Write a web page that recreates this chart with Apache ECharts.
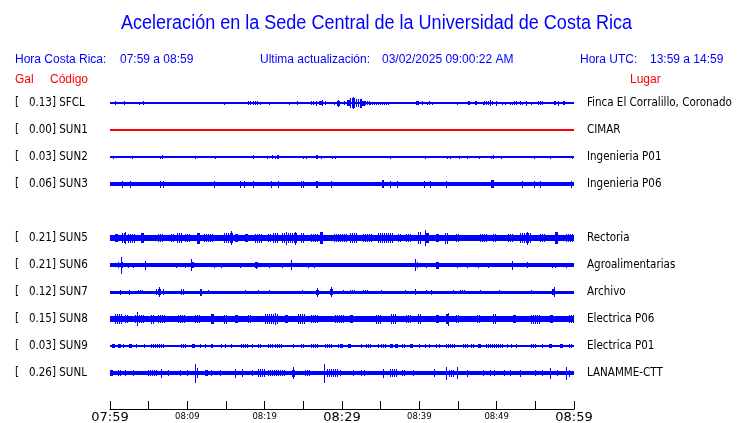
<!DOCTYPE html>
<html>
<head>
<meta charset="utf-8">
<script src="https://cdn.jsdelivr.net/npm/echarts@6/dist/echarts.min.js"></script>
<style>
  html, body { margin: 0; padding: 0; background: #ffffff; }
  #chart { width: 740px; height: 423px; }
</style>
</head>
<body>
<div id="chart"></div>
<script>
// ---------- data ----------
const codes  = ['SFCL', 'SUN1', 'SUN2', 'SUN3', 'SUN5', 'SUN6', 'SUN7', 'SUN8', 'SUN9', 'SUNL'];
const gal    = ['0.13', '0.00', '0.03', '0.06', '0.21', '0.21', '0.12', '0.15', '0.03', '0.26'];
const places = ['Finca El Corralillo, Coronado', 'CIMAR', 'Ingenieria P01', 'Ingenieria P06',
                'Rectoria', 'Agroalimentarias', 'Archivo', 'Electrica P06', 'Electrica P01', 'LANAMME-CTT'];
const rowIndex = [0, 1, 2, 3, 5, 6, 7, 8, 9, 10];
const traceColor = ['#0000ff', '#ff0000', '#0000ff', '#0000ff', '#0000ff', '#0000ff', '#0000ff', '#0000ff', '#0000ff', '#0000ff'];
// background (quiet) half-amplitude of each trace, relative units
const baseAmp = [0.6, 0.8, 0.6, 2, 3.2, 1.8, 1.5, 3, 0.8, 2];

// minutes after 07:59 ; x tick labels
const tickMinutes = [0, 10, 20, 30, 40, 50, 60];
const tickLabels  = ['07:59', '08:09', '08:19', '08:29', '08:39', '08:49', '08:59'];

// events: [startMinute, endMinute, halfAmplitude]
const evSFCL = [[0.7,0.7,2],[1.8,1.8,2],[3.8,3.8,1.5],[4.3,4.3,2],[14.7,14.7,1.5],[17.85,18.3,1.8],[18.5,19.2,1.8],
  [19.4,19.4,1.5],[20.6,20.6,1.5],[23.1,23.1,1.5],[24.2,24.2,2],[25.95,26.5,1.8],[26.7,26.7,2.5],[27.0,27.0,2],
  [27.2,27.6,2],[27.4,27.4,3],[27.75,27.75,2],[29.0,29.0,1.5],[29.35,29.75,2.5],[29.5,29.5,3.5],[30.3,30.3,2],
  [30.6,31.0,3],[31.0,31.8,5],[31.4,31.4,6],[31.8,32.3,4],[32.3,32.6,4.5],[32.6,33.0,2.5],[33.0,33.6,2],[33.6,36.2,1.5],
  [39.6,39.9,2],[40.4,40.4,2],[41.0,41.0,1.5],[41.25,41.4,2],[41.7,41.7,1.5],[42.0,42.0,1.2],[44.9,44.9,1.5],
  [46.35,46.6,2],[47.2,47.4,2],[48.2,48.2,1.5],[48.3,49.5,2],[49.1,49.1,3],[49.9,50.1,2.5],[50.7,50.7,1.5],
  [51.1,51.1,1.5],[51.7,51.7,1.5],[52.0,52.0,1.5],[52.3,52.7,2],[53.0,53.0,2],[53.3,53.3,1.5],[53.8,53.8,2.5],
  [54.4,54.4,1.5],[55.3,56.1,2],[56.6,56.6,1.2],[57.4,57.7,2],[57.9,57.9,2.5],[58.6,58.8,2]];
const evSUN1 = [];
const evSUN2 = [[0.35,0.35,1.5],[2.85,2.85,1.5],[6.5,6.5,1.5],[6.7,6.9,1.8],[11.0,11.0,1.5],[13.6,13.6,1.5],
  [18.5,18.5,2],[20.3,20.3,1.5],[20.9,20.9,2],[21.3,21.3,1.5],[21.6,21.8,2],[25.0,25.0,1.5],[25.3,25.3,1.5],
  [26.7,26.95,2],[27.3,27.3,1.5],[28.7,28.7,1.5],[29.1,29.1,1.5],[36.25,36.4,1.5],[40.7,40.9,1.5],[43.6,43.6,1.5],
  [44.0,44.0,1.5],[45.1,45.1,1.5],[46.1,46.1,1.5],[47.7,47.7,1.5],[49.3,49.3,1.5],[49.5,49.5,2],[50.5,50.5,1.5],
  [54.8,54.8,1.5],[56.9,56.9,1.5],[59.7,59.7,1.5]];
const evSUN3 = [[1.55,1.55,3.5],[2.6,2.6,3.5],[6.5,6.5,3.5],[6.9,6.9,3.5],[13.45,13.45,3.5],[16.8,16.8,3.5],
  [17.3,17.3,3.5],[18.5,18.5,3.5],[20.8,21.0,3.5],[21.7,21.7,3.5],[24.75,24.75,3.5],[25.0,25.0,3.5],[26.7,26.9,3.5],
  [28.6,28.6,3.5],[35.2,35.4,4],[36.2,36.2,3.5],[37.1,37.1,3.5],[40.6,40.6,3.5],[41.4,41.4,3.5],[43.5,43.5,3.5],
  [49.3,49.6,4],[53.3,53.3,3.5],[54.8,54.8,3.5],[55.6,55.6,3.5],[59.6,59.6,3.5]];
const evSUN5 = [[0.6,1.0,4],[1.5,2.1,5],[1.9,1.9,6],[2.3,3.2,4.5],[4.05,4.4,5],[6.2,6.9,4],[7.9,8.4,4],[8.6,9.4,5],
  [9.7,10.5,4],[11.2,11.6,5.5],[12.2,13.5,4],[14.8,15.9,5],[15.6,15.6,7],[16.1,16.6,4],[17.4,17.8,4],[18.7,19.6,4.5],
  [20.4,20.9,4],[21.1,21.7,5],[22.2,24.3,5],[22.8,22.8,6.5],[23.9,23.9,6.5],[24.7,25.2,5],[26.0,26.9,4],[27.1,27.5,6],
  [29.0,30.6,4],[31.0,31.9,5],[32.7,34.0,4],[34.7,35.5,5],[35.7,36.6,5],[37.2,37.7,4],[38.3,39.0,4],[39.8,40.3,6],
  [40.7,40.7,8],[40.9,41.3,5],[42.2,42.6,4],[43.3,43.9,5.5],[44.8,45.2,4],[47.8,48.7,4],[49.5,50.0,4],[51.5,52.1,4],
  [53.0,54.5,5],[53.9,53.9,6.5],[55.6,56.2,4],[57.5,57.9,6],[59.0,60.0,4]];
const evSUN6 = [[1.04,1.04,3],[1.38,1.38,8.5],[1.5,1.6,3],[2.33,2.33,2.5],[2.98,2.98,2.5],[4.57,4.57,4.5],
  [8.58,8.58,2.5],[9.66,9.66,2.5],[10.52,10.52,6],[10.6,10.8,3],[13.5,13.5,2.5],[14.3,14.3,2.5],[16.8,16.8,2.5],
  [18.7,19.1,3],[18.9,18.9,3.5],[20.5,20.5,2.5],[22.25,22.25,2.5],[23.4,23.4,5],[25.6,25.6,2.5],[26.4,26.4,2.5],
  [39.5,39.5,6],[39.7,39.7,3],[40.9,40.9,2.5],[42.2,42.5,3.5],[44.9,44.9,2.5],[46.1,46.1,2.5],[47.6,47.6,2.5],
  [48.9,48.9,2.5],[52.0,52.0,4.5],[53.9,54.1,3],[57.1,57.1,2.5],[57.6,57.6,2.5],[59.0,59.0,2.5]];
const evSUN7 = [[1.25,1.25,2.5],[2.4,2.4,2.5],[3.6,4.4,2.2],[6.0,6.6,3],[6.3,6.3,5],[6.86,6.86,3],[9.2,9.66,3],
  [11.6,11.9,3.5],[12.7,12.7,2],[17.4,17.4,2],[19.2,19.2,2],[20.6,20.6,2],[24.8,24.8,2],[26.6,27.0,2.5],[26.8,26.8,4.5],
  [28.4,28.8,3],[28.6,28.6,5],[30.1,30.1,2],[31.0,31.8,2.2],[32.7,33.5,2.2],[35.1,35.1,2],[38.1,38.1,2],[39.5,39.5,3],
  [40.9,40.9,2],[41.55,41.55,2.5],[44.4,44.4,2],[45.3,46.0,2],[47.8,47.8,2],[50.3,50.3,2],[54.5,54.5,2],
  [57.2,57.6,3],[57.4,57.4,5]];
const evSUN8 = [[0.6,1.7,5],[1.9,2.5,4],[3.2,4.5,4],[3.5,3.5,7],[5.35,5.8,4.5],[6.2,7.1,4],[8.8,9.7,4],[11.0,11.6,4],
  [13.1,13.5,5],[14.8,15.3,4.5],[16.1,16.6,4],[17.8,18.3,4],[20.0,21.7,5],[21.3,21.3,6],[22.6,23.0,4],[24.3,25.2,5],
  [26.0,26.9,4],[29.1,30.35,4],[31.0,31.4,4],[34.4,35.1,4.5],[36.4,37.0,5],[38.3,39.0,4],[39.8,40.3,5],[42.2,42.6,4],
  [43.5,43.9,5],[43.7,43.7,6.5],[44.8,45.2,4],[47.4,48.0,4],[49.5,50.0,5],[52.1,52.5,4],[54.5,55.6,4.5],
  [56.9,57.3,4],[59.4,60.0,4]];
const evSUN9 = [[0.2,0.6,1.8],[1.0,1.4,1.8],[1.7,1.7,1.8],[2.4,2.8,1.8],[3.4,3.4,1.8],[4.4,4.4,1.8],[5.3,7.0,1.8],
  [9.2,9.9,1.8],[10.6,11.0,1.8],[11.6,11.6,1.8],[12.25,12.25,1.8],[13.0,13.3,1.8],[14.4,14.4,1.8],[14.9,14.9,1.8],
  [15.7,15.7,1.8],[17.0,17.9,1.8],[18.3,18.3,1.8],[19.2,19.6,1.8],[20.4,21.1,1.8],[21.3,22.4,1.8],[23.7,23.7,1.8],
  [24.7,25.2,1.8],[26.0,26.9,1.8],[27.8,28.8,1.8],[29.5,29.5,1.8],[29.7,30.1,1.8],[30.8,31.2,1.8],[32.5,32.5,1.8],
  [33.1,33.7,1.8],[34.7,34.7,1.8],[35.1,35.7,1.8],[36.2,36.6,1.8],[36.8,37.2,1.8],[37.7,38.3,1.8],[38.75,39.2,1.8],
  [40.0,40.0,1.8],[40.7,40.7,1.8],[41.3,41.3,1.8],[42.2,42.2,1.8],[42.6,42.6,1.8],[43.4,44.8,1.8],[45.6,46.3,1.8],
  [46.7,47.2,1.8],[47.6,48.0,1.8],[48.6,50.8,1.8],[51.3,51.3,1.8],[51.9,51.9,1.8],[52.5,52.5,1.8],[54.4,55.1,1.8],
  [55.8,56.0,1.8],[56.8,57.2,1.8],[58.2,58.6,1.8],[59.4,59.9,1.8]];
const evSUNL = [[0,0.4,3],[1.0,1.5,3],[1.9,1.9,3],[3.0,3.0,3],[4.9,6.2,3],[6.6,6.6,4.5],[7.5,7.5,3],[9.0,9.0,3],
  [9.9,9.9,3],[10.95,10.95,9.5],[11.2,11.2,5],[12.25,12.7,3],[13.1,13.1,3],[14.2,14.2,3],[16.1,16.1,4.5],
  [17.1,17.1,4],[18.3,18.3,3],[19.1,20.0,4],[20.4,22.6,3],[23.5,23.9,3.5],[23.7,23.7,6],[25.2,26.0,3],[27.7,27.7,9.5],
  [28.0,29.5,4],[29.7,29.9,3],[31.4,31.4,3],[32.5,32.5,3],[32.9,32.9,3],[35.3,35.3,4.5],[36.2,37.2,4],[37.7,38.3,3],
  [39.2,39.2,3],[41.9,41.9,4],[43.4,43.4,6.5],[43.9,44.6,3.5],[44.9,44.9,6],[46.2,46.2,3.5],[48.2,48.2,3],
  [49.1,49.1,3],[49.7,49.7,3],[51.0,51.0,3],[51.7,51.7,3],[53.0,53.0,3.5],[54.9,54.9,3],[55.8,55.8,3],
  [56.9,56.9,5.5],[57.8,57.8,3],[59.0,59.0,6.5],[59.4,59.4,3.5]];
const events = [evSFCL, evSUN1, evSUN2, evSUN3, evSUN5, evSUN6, evSUN7, evSUN8, evSUN9, evSUNL];

// ---------- build ----------
const AMP_UNIT = 1 / 27;   // rows per relative amplitude unit
const seriesData = [];
codes.forEach((c, i) => {
  const r = rowIndex[i];
  seriesData.push({ value: [r, 0, 60, baseAmp[i], 0], itemStyle: { color: traceColor[i] } });
  events[i].forEach(ev => seriesData.push({ value: [r, ev[0], ev[1], ev[2], 1], itemStyle: { color: traceColor[i] } }));
});
const leftLabel = {}, rightLabel = {};
codes.forEach((c, i) => {
  leftLabel[rowIndex[i]] = '[   ' + gal[i] + '] ' + c;
  rightLabel[rowIndex[i]] = places[i];
});
const tickMap = {};
tickMinutes.forEach((m, i) => tickMap[m] = tickLabels[i]);

const BLUE = '#0000ff', RED = '#ff0000';
const headFont = 'Liberation Sans';
const rowFont = 'DejaVu Sans Condensed';
const TITLE = 'Aceleración en la Sede Central de la Universidad de Costa Rica';
const mctx = document.createElement('canvas').getContext('2d');
mctx.font = '20px "Liberation Sans"';
const titleScale = 511 / mctx.measureText(TITLE).width;

const chart = echarts.init(document.getElementById('chart'), null, { renderer: 'canvas' });

chart.setOption({
  animation: false,
  backgroundColor: '#ffffff',
  grid: { left: 110, right: 166, top: 76, bottom: 14, containLabel: false, outerBoundsMode: 'none' },
  xAxis: {
    type: 'value', min: 0, max: 60, interval: 5,
    axisLine: { show: true, onZero: false, lineStyle: { color: '#000', width: 1 } },
    axisTick: { show: true, inside: true, length: 8, lineStyle: { color: '#000', width: 1 } },
    splitLine: { show: false },
    axisLabel: {
      show: true, margin: 2, verticalAlign: 'top', hideOverlap: false,
      showMinLabel: true, showMaxLabel: true,
      formatter: v => {
        const t = tickMap[v];
        if (!t) return '';
        return (v % 30 === 0) ? '{big|' + t + '}' : '{small|' + t + '}';
      },
      rich: {
        big: { fontFamily: 'DejaVu Sans', fontSize: 13, color: '#000', letterSpacing: 0.5 },
        small: { fontFamily: 'DejaVu Sans', fontSize: 8.5, color: '#000', padding: [1, 0, 0, 0] }
      }
    }
  },
  yAxis: [
    {
      type: 'value', inverse: true, min: -1, max: 34 / 3, interval: 1, position: 'left',
      axisLine: { show: false }, axisTick: { show: false }, splitLine: { show: false },
      axisLabel: {
        margin: 95, align: 'left', color: '#000', fontFamily: rowFont, fontSize: 11.5,
        showMinLabel: true, showMaxLabel: true,
        formatter: v => leftLabel[v] || ''
      }
    },
    {
      type: 'value', inverse: true, min: -1, max: 34 / 3, interval: 1, position: 'right',
      axisLine: { show: false }, axisTick: { show: false }, splitLine: { show: false },
      axisLabel: {
        margin: 13, align: 'left', color: '#000', fontFamily: rowFont, fontSize: 11.5,
        formatter: v => rightLabel[v] || ''
      }
    }
  ],
  series: [{
    type: 'custom',
    coordinateSystem: 'cartesian2d',
    xAxisIndex: 0, yAxisIndex: 0,
    encode: { x: [1, 2], y: 0 },
    clip: false,
    data: seriesData,
    renderItem: (params, api) => {
      const row = api.value(0), s = api.value(1), e = api.value(2), a = api.value(3), isEvent = api.value(4);
      const p0 = api.coord([s, row - a * AMP_UNIT]);
      const p1 = api.coord([e, row + a * AMP_UNIT]);
      let x0 = Math.round(p0[0]), x1 = Math.round(p1[0]);
      if (x1 - x0 < 1) x1 = x0 + 1;
      let y0 = Math.round(Math.min(p0[1], p1[1])), y1 = Math.round(Math.max(p0[1], p1[1]));
      if (y1 - y0 < 1) y1 = y0 + 1;
      const fill = api.visual('color');
      if (isEvent && x1 - x0 > 3) {
        // burst drawn as a comb of 1px strokes (seismogram texture)
        const children = [];
        for (let x = x0; x < x1; x += 2) {
          children.push({ type: 'rect', shape: { x: x, y: y0, width: 1, height: y1 - y0 }, style: { fill: fill } });
        }
        return { type: 'group', children: children };
      }
      return { type: 'rect', shape: { x: x0, y: y0, width: x1 - x0, height: y1 - y0 }, style: { fill: fill } };
    }
  }],
  graphic: [
    { type: 'text', x: 376.5, y: 23, scaleX: titleScale,
      style: { text: TITLE, font: '20px "Liberation Sans"', fill: BLUE, textAlign: 'center', verticalAlign: 'middle' } },
    { type: 'text', x: 15, y: 60, style: { text: 'Hora Costa Rica:', font: '12px ' + headFont, fill: BLUE, verticalAlign: 'middle' } },
    { type: 'text', x: 120, y: 60, style: { text: '07:59 a 08:59', font: '12px ' + headFont, fill: BLUE, verticalAlign: 'middle' } },
    { type: 'text', x: 260, y: 60, style: { text: 'Ultima actualización:', font: '12px ' + headFont, fill: BLUE, verticalAlign: 'middle' } },
    { type: 'text', x: 382, y: 60, style: { text: '03/02/2025 09:00:22 AM', font: '12px ' + headFont, fill: BLUE, verticalAlign: 'middle' } },
    { type: 'text', x: 580, y: 60, style: { text: 'Hora UTC:', font: '12px ' + headFont, fill: BLUE, verticalAlign: 'middle' } },
    { type: 'text', x: 650, y: 60, style: { text: '13:59 a 14:59', font: '12px ' + headFont, fill: BLUE, verticalAlign: 'middle' } },
    { type: 'text', x: 15, y: 80, style: { text: 'Gal', font: '12px ' + headFont, fill: RED, verticalAlign: 'middle' } },
    { type: 'text', x: 50, y: 80, style: { text: 'Código', font: '12px ' + headFont, fill: RED, verticalAlign: 'middle' } },
    { type: 'text', x: 630, y: 80, style: { text: 'Lugar', font: '12px ' + headFont, fill: RED, verticalAlign: 'middle' } }
  ]
});
</script>
</body>
</html>
